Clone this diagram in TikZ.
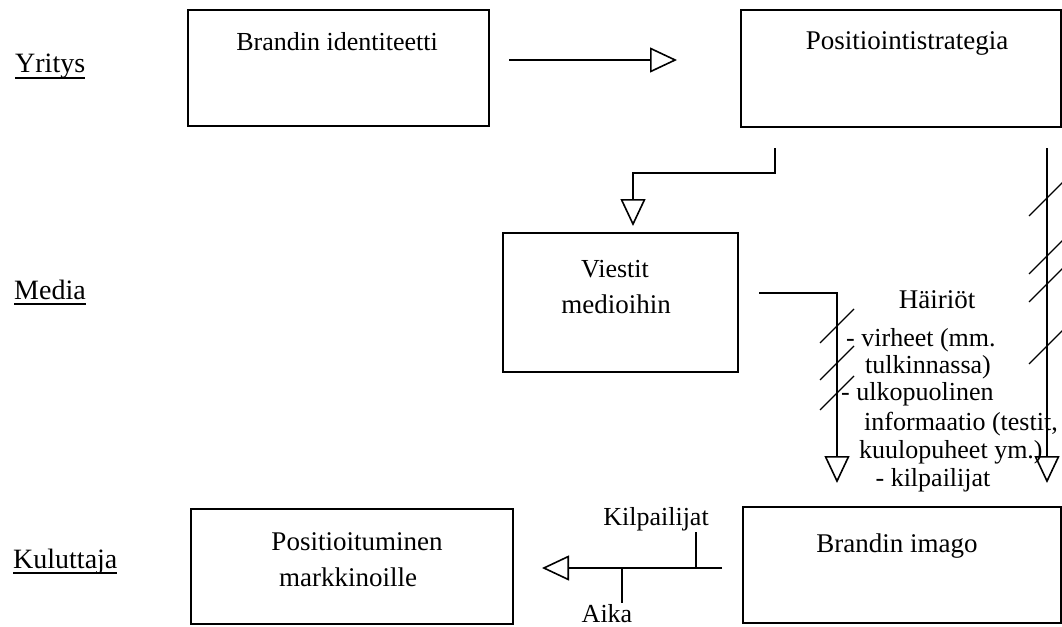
\documentclass[tikz,border=0pt]{standalone}
\usepackage{fontspec}
\setmainfont{Liberation Serif}
\usetikzlibrary{arrows.meta}
\newcommand{\alleviiva}[1]{\setbox0\hbox{#1}\rlap{\rule[-6pt]{\wd0}{2pt}}\box0}

\begin{document}
\begin{tikzpicture}[x=1pt, y=-1pt, font=\fontsize{26}{31}\selectfont,
    every node/.style={inner sep=1pt},
    laatikko/.style={draw, line width=2pt, inner sep=0pt},
    isoteksti/.style={font=\fontsize{27}{32}\selectfont},
    taso/.style={anchor=base west, font=\fontsize{28}{33}\selectfont},
    flow/.style={-{Triangle[open, length=27pt, width=25pt]}, line width=1.6pt},
    viiva/.style={line width=1.6pt},
    vino/.style={line width=1.2pt}]
    \useasboundingbox (0,0) rectangle (1062,626);

    % Tasot
    \node[taso] (yritys) at (14,73) {\alleviiva{Yritys}};
    \node[taso] (media) at (13,299) {\alleviiva{Media}};
    \node[taso] (kuluttaja) at (12,568) {\alleviiva{Kuluttaja}};

    % Laatikot
    \node[laatikko, minimum width=301pt, minimum height=116pt] (ident) at (338.5,68) {};
    \node[laatikko, minimum width=320pt, minimum height=117pt] (posit) at (901,68.5) {};
    \node[laatikko, minimum width=235pt, minimum height=139pt] (viest) at (620.5,302.5) {};
    \node[laatikko, minimum width=318pt, minimum height=116pt] (imago) at (902,565) {};
    \node[laatikko, minimum width=322pt, minimum height=115pt] (markk) at (352,566.5) {};

    % Tekstit laatikoissa
    \node[anchor=base] (identtxt) at (337,51) {Brandin identiteetti};
    \node[isoteksti, anchor=base] (posittxt) at (907,50) {Positiointistrategia};
    \node[anchor=base] (viesttxt1) at (615,277) {Viestit};
    \node[isoteksti, anchor=base] (viesttxt2) at (616,313) {medioihin};
    \node[isoteksti, anchor=base] (imagotxt) at (897,552) {Brandin imago};
    \node[isoteksti, anchor=base] (markktxt1) at (357,550) {Positioituminen};
    \node[isoteksti, anchor=base] (markktxt2) at (348,586) {markkinoille};

    % Nuolet
    \draw[flow, shorten <=19pt, shorten >=63pt] ([yshift=8pt]ident.east) -- ([yshift=8.5pt]posit.west);
    \draw[flow] ([xshift=35pt, yshift=-20pt]posit.south west) -- ++(0,25)
        -| ([xshift=12.5pt, yshift=6pt]viest.north);
    \draw[flow] ([xshift=20pt, yshift=9.5pt]viest.east) -| ([xshift=-65pt, yshift=23pt]imago.north);
    \draw[flow] ([xshift=-15pt, yshift=-20pt]posit.south east) -- ([xshift=-15pt, yshift=23pt]imago.north east);
    \draw[flow] ([xshift=-20pt, yshift=-3pt]imago.west) -- ([xshift=28pt, yshift=-1.5pt]markk.east);

    % Katkokset
    \foreach \y in {326,363,393}
        \draw[vino] (837,\y) ++(-17,17) -- ++(34,-34);
    \foreach \y in {199,257,285,347}
        \draw[vino] (1046,\y) ++(-17,17) -- ++(34,-34);

    % Häiriöt
    \node[isoteksti, anchor=base] (hairiot) at (937,308) {Häiriöt};
    \node[anchor=base west] (h1) at (845,346) {- virheet (mm.};
    \node[anchor=base west] (h2) at (864,373) {tulkinnassa)};
    \node[anchor=base west] (h3) at (840,400) {- ulkopuolinen};
    \node[anchor=base west] (h4) at (863,430) {informaatio (testit,};
    \node[anchor=base west] (h5) at (858,458) {kuulopuheet ym.)};
    \node[anchor=base] (h6) at (933,486) {- kilpailijat};

    % Kilpailijat ja aika
    \node[anchor=base] (kilp) at (656,525) {Kilpailijat};
    \node[anchor=base] (aika) at (607,622) {Aika};
    \coordinate (kilpt) at (696,568);
    \coordinate (aikat) at (622,568);
    \draw[viiva] (kilpt) -- (kilpt |- kilp.south);
    \draw[viiva] (aikat) -- (aikat |- aika.north);
\end{tikzpicture}
\end{document}
